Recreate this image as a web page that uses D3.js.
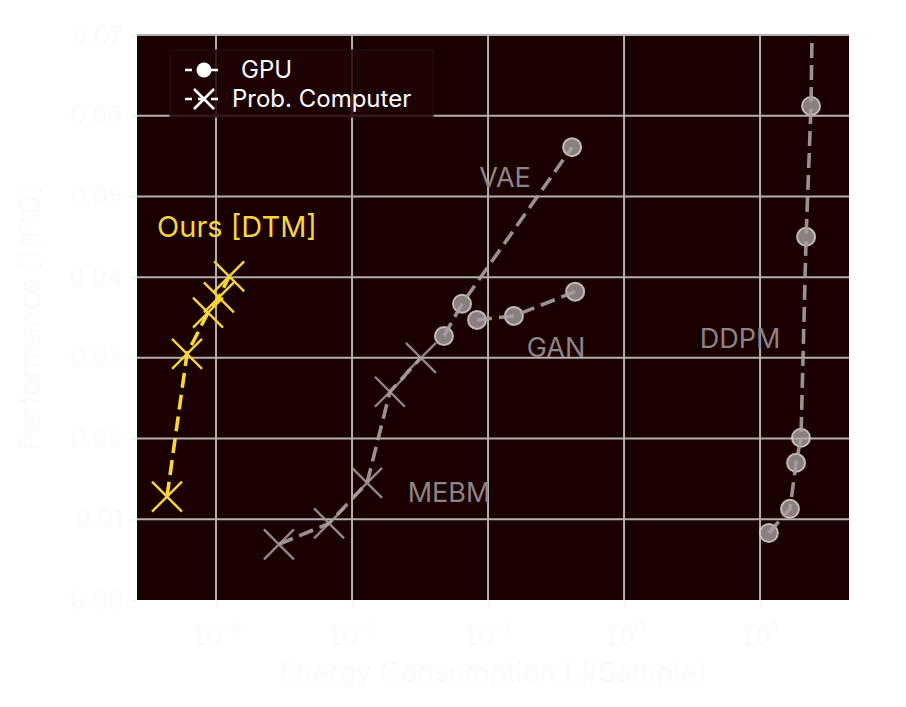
<!DOCTYPE html>
<html><head><meta charset="utf-8">
<script src="https://cdn.jsdelivr.net/npm/d3@7"></script>
<style>body{margin:0;background:#fff;}svg{display:block;font-family:Inter,"Noto Sans",sans-serif;}</style>
</head><body>
<div id="chart"></div>
<script>
// Energy [J/sample] and performance [1/FID]
const dtmEnergy = [4.36e-4, 6.12e-4, 8.73e-4, 1.05e-3, 1.25e-3];
const dtmPerf   = [0.0128, 0.0305, 0.0356, 0.0375, 0.0401];
const mebmEnergy = [2.90e-3, 6.78e-3, 1.29e-2, 1.90e-2, 3.21e-2];
const mebmPerf   = [0.0069, 0.0095, 0.0145, 0.0258, 0.0300];
const vaeEnergy = [4.74e-2, 6.44e-2, 0.415];
const vaePerf   = [0.0327, 0.0367, 0.0561];
const ganEnergy = [0.083, 0.155, 0.437];
const ganPerf   = [0.0347, 0.0352, 0.0382];
const ddpmEnergy = [11.6, 16.6, 18.4, 20.0, 21.8, 23.7, 24.8];
const ddpmPerf   = [0.0083, 0.0113, 0.0170, 0.0201, 0.0450, 0.0612, 0.0850];
const xTicks = [1e-3, 1e-2, 1e-1, 1e0, 1e1];
const yTicks = [0.00, 0.01, 0.02, 0.03, 0.04, 0.05, 0.06, 0.07];
const seriesLabels = ["Ours [DTM]", "MEBM", "VAE", "GAN", "DDPM"];
const legendLabels = ["GPU", "Prob. Computer"];

const W = 906, H = 707;
const m = {l:137, r:57, t:35, b:107};
const svg = d3.select("#chart").append("svg").attr("width", W).attr("height", H);
const x = d3.scaleLog().domain([Math.pow(10,-3.581), Math.pow(10,1.654)]).range([m.l, W-m.r]);
const y = d3.scaleLinear().domain([0, 0.07]).range([H-m.b, m.t]);

svg.append("defs").append("clipPath").attr("id","clip").append("rect")
  .attr("x", m.l).attr("y", m.t).attr("width", W-m.l-m.r).attr("height", H-m.t-m.b);

svg.append("rect").attr("x", m.l).attr("y", m.t).attr("width", W-m.l-m.r).attr("height", H-m.t-m.b).attr("fill", "#1a0000");

// grid
const g = svg.append("g");
g.selectAll(".vg").data(xTicks).join("line").attr("x1", d=>x(d)).attr("x2", d=>x(d))
  .attr("y1", m.t).attr("y2", H-m.b).attr("stroke", "#b3b0b0").attr("stroke-width", 2);
g.selectAll(".hg").data(yTicks.slice(1)).join("line").attr("y1", d=>y(d)).attr("y2", d=>y(d))
  .attr("x1", m.l).attr("x2", W-m.r).attr("stroke", "#b3b0b0").attr("stroke-width", 2);

// axes (near-white on white)
const faint = "#fbfbfb";
const xAxis = d3.axisBottom(x).tickValues(xTicks).tickSize(7).tickFormat("");
const xa = svg.append("g").attr("transform", `translate(0,${H-m.b})`).call(xAxis);
xa.select(".domain").remove();
xa.selectAll("line").attr("stroke", "#f6f6f6").attr("stroke-width", 2);
xa.selectAll(".tick").each(function(d){
  const e = Math.round(Math.log10(d));
  const t = d3.select(this).append("text").attr("y", 45).attr("text-anchor","middle")
    .attr("fill", faint).attr("font-size", 27);
  t.append("tspan").text("10");
  t.append("tspan").attr("dy", -12).attr("font-size", 18).text(String(e).replace("-", "\u2212"));
});
const yAxis = d3.axisLeft(y).tickValues(yTicks).tickSize(7).tickFormat(d3.format(".2f"));
const ya = svg.append("g").attr("transform", `translate(${m.l},0)`).call(yAxis);
ya.select(".domain").remove();
ya.selectAll("line").attr("stroke", "#f6f6f6").attr("stroke-width", 2);
ya.selectAll("text").attr("fill", faint).attr("font-size", 25).attr("font-family", "Inter, sans-serif").attr("x", -14);

svg.append("text").attr("x", (m.l + W - m.r)/2).attr("y", 682).attr("text-anchor","middle")
  .attr("fill", faint).attr("font-size", 28).text("Energy Consumption [J/Sample]");
svg.append("text").attr("transform", `translate(40,${(m.t + H - m.b)/2}) rotate(-90)`).attr("text-anchor","middle")
  .attr("fill", faint).attr("font-size", 28).text("Performance [1/FID]");

// series
const plot = svg.append("g").attr("clip-path", "url(#clip)");
const line = d3.line().x(d=>x(d[0])).y(d=>y(d[1]));
const zip = (a,b) => a.map((v,i)=>[v,b[i]]);
const gray = "#aaa0a0", yellow = "#f6d540";

function drawLine(data, color){
  plot.append("path").datum(data).attr("d", line).attr("fill","none")
    .attr("stroke", color).attr("stroke-width", 3.6).attr("stroke-dasharray", "15,7")
    .attr("stroke-opacity", color===gray ? 0.9 : 1);
}
function drawX(data, color, op){
  const s = 15;
  plot.selectAll(null).data(data).join("path")
    .attr("d", d => { const cx=x(d[0]), cy=y(d[1]); return `M${cx-s},${cy-s}L${cx+s},${cy+s}M${cx-s},${cy+s}L${cx+s},${cy-s}`; })
    .attr("stroke", color).attr("stroke-width", 2.4).attr("stroke-opacity", op).attr("fill","none");
}
function drawO(data){
  plot.selectAll(null).data(data).join("circle").attr("cx", d=>x(d[0])).attr("cy", d=>y(d[1])).attr("r", 9)
    .attr("fill", "#b0a8a8").attr("fill-opacity", 0.75).attr("stroke", "#d4cece").attr("stroke-width", 2).attr("stroke-opacity",0.85);
}

const mebm = zip(mebmEnergy, mebmPerf), vae = zip(vaeEnergy, vaePerf), gan = zip(ganEnergy, ganPerf);
const ddpm = zip(ddpmEnergy, ddpmPerf), dtm = zip(dtmEnergy, dtmPerf);
drawO(vae); drawO(gan); drawO(ddpm);
drawLine(mebm, gray); drawLine(vae, gray); drawLine(gan, gray); drawLine(ddpm, gray);
drawX(mebm, "#a89c9c", 0.85);
drawLine(dtm, yellow);
drawX(dtm, yellow, 1);

// series labels
const lab = [
  {t: seriesLabels[0], x: 237, y: 237, c: yellow, s: 29},
  {t: seriesLabels[1], x: 449, y: 502, c: "#8e8484", s: 27},
  {t: seriesLabels[2], x: 505, y: 187, c: "#8e8484", s: 27},
  {t: seriesLabels[3], x: 556, y: 357, c: "#8e8484", s: 27},
  {t: seriesLabels[4], x: 740, y: 348, c: "#8e8484", s: 27}
];
svg.selectAll(null).data(lab).join("text").attr("x", d=>d.x).attr("y", d=>d.y).attr("text-anchor","middle")
  .attr("fill", d=>d.c).attr("font-size", d=>d.s).text(d=>d.t);

// legend
const lg = svg.append("g");
lg.append("rect").attr("x", 170).attr("y", 50).attr("width", 263).attr("height", 67)
  .attr("fill", "#1e0404").attr("fill-opacity", 0.85).attr("stroke", "#2a1212").attr("stroke-width", 1);
const ly = [70, 99];
[0,1].forEach(i => {
  lg.append("line").attr("x1", 185).attr("x2", 224).attr("y1", ly[i]).attr("y2", ly[i])
    .attr("stroke", "#fff").attr("stroke-width", 2.6).attr("stroke-dasharray", "7,6");
  lg.append("text").attr("x", i===0 ? 241 : 232).attr("y", ly[i]+8).attr("fill","#fff").attr("font-size", 24).text(legendLabels[i]);
});
lg.append("circle").attr("cx", 204).attr("cy", ly[0]).attr("r", 7.5).attr("fill", "#fff");
lg.append("path").attr("d", `M${204-10},${ly[1]-10}L${204+10},${ly[1]+10}M${204-10},${ly[1]+10}L${204+10},${ly[1]-10}`)
  .attr("stroke", "#fff").attr("stroke-width", 2.6);
</script>
</body></html>
